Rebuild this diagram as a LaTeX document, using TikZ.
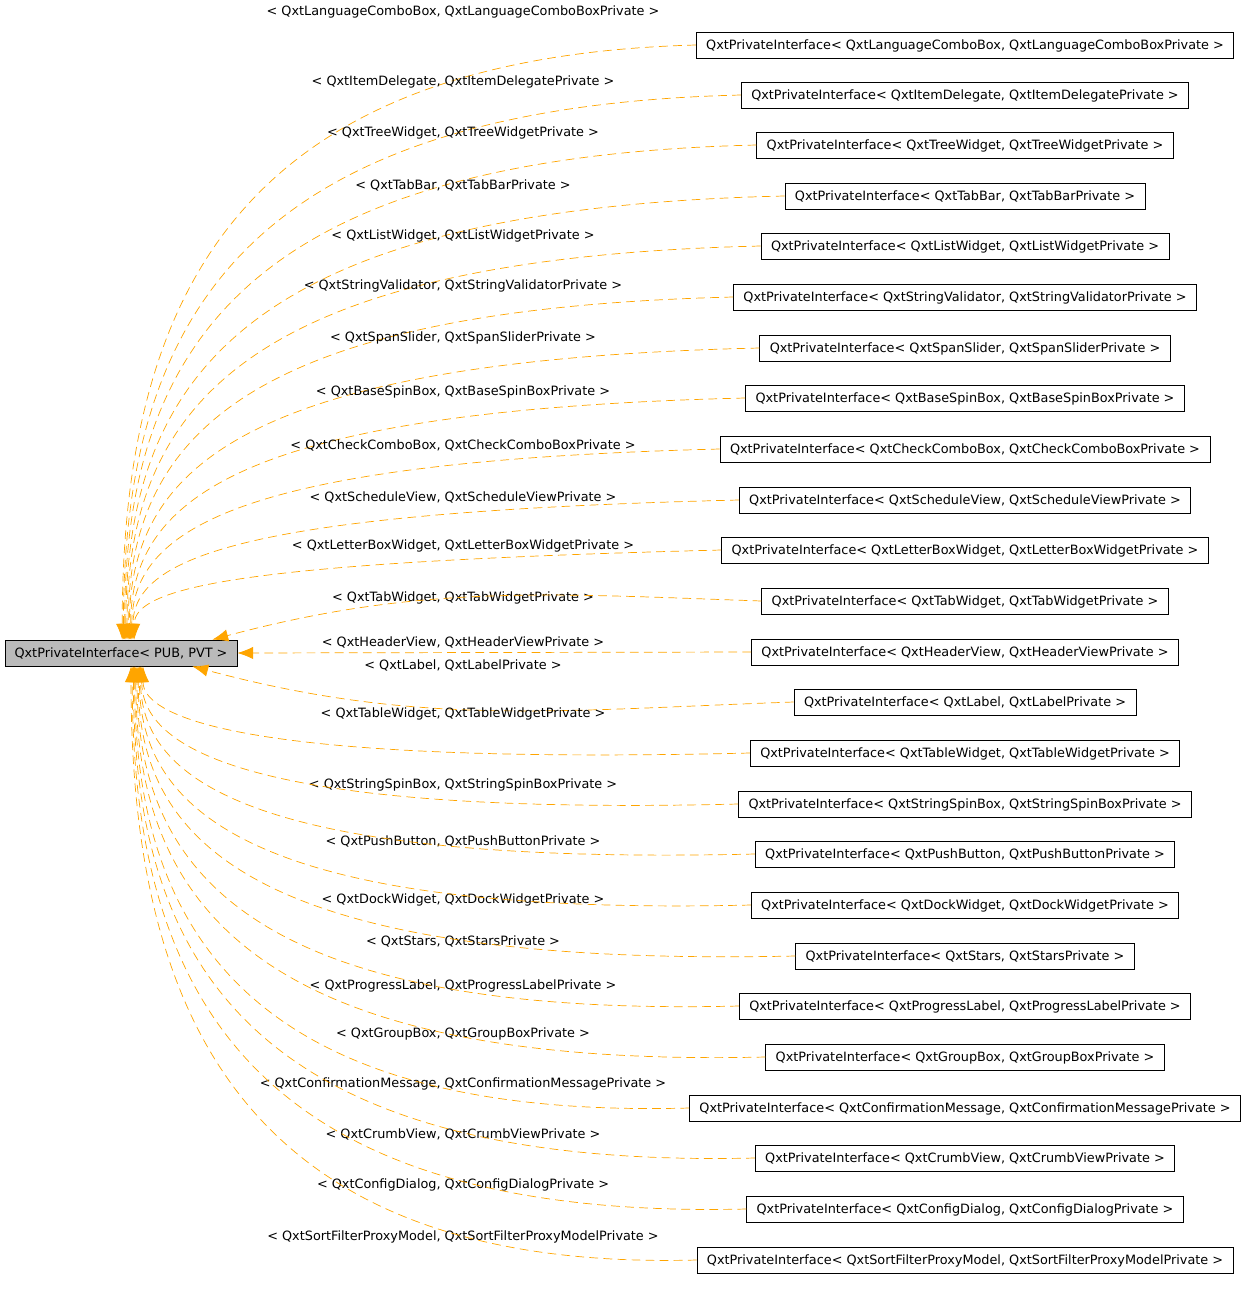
\documentclass[tikz,border=0pt]{standalone}
\usepackage{fontspec}
\setmainfont{DejaVu Sans}
\usetikzlibrary{arrows.meta,calc}
\definecolor{edgeorange}{HTML}{FFA500}
\tikzset{>={Latex[length=9pt,width=7pt]}}
\tikzset{
  classbox/.style={draw, inner sep=0pt, minimum height=26*0.02cm, font=\fontsize{7.3}{9}\selectfont, text height=1.2ex},
  dep/.style={->, edgeorange, dashed, dash pattern=on 5pt off 3pt},
  deplabel/.style={font=\fontsize{7.3}{9}\selectfont, inner sep=0pt}
}
\begin{document}
\begin{tikzpicture}[x=0.02cm,y=-0.02cm]
  \useasboundingbox (0,0) rectangle (1245,1309);
  \node[classbox, fill=black!27, minimum width=232*0.02cm] (base) at (121,653) {QxtPrivateInterface< PUB, PVT >};
  \foreach \n/\yc/\ly/\nm in {1/45/12/LanguageComboBox, 2/95/82/ItemDelegate, 3/145/133/TreeWidget, 4/196/185/TabBar, 5/246/236/ListWidget, 6/297/286/StringValidator, 7/348/338/SpanSlider, 8/398/392/BaseSpinBox, 9/449/445/CheckComboBox, 10/500/497/ScheduleView, 11/550/546/LetterBoxWidget, 12/601/598/TabWidget, 13/652/642/HeaderView, 14/702/665/Label, 15/753/714/TableWidget, 16/804/785/StringSpinBox, 17/854/841/PushButton, 18/905/900/DockWidget, 19/956/941/Stars, 20/1006/986/ProgressLabel, 21/1057/1034/GroupBox, 22/1108/1084/ConfirmationMessage, 23/1158/1134/CrumbView, 24/1209/1185/ConfigDialog, 25/1260/1237/SortFilterProxyModel} {
    \node[classbox, inner xsep=10*0.02cm] (r\n) at (965,\yc) {QxtPrivateInterface< Qxt\nm, Qxt{\nm}Private >};
    \node[deplabel] (l\n) at (463,\ly) {< Qxt\nm, Qxt{\nm}Private >};
    \ifnum\n<12
      \coordinate (e\n) at ($(base.north)+(\n*1.2,0)$);
      \draw[dep] (r\n.west) .. controls (250,{\yc+12}) and ({121+\n*1.2},{\yc+0.4*(640-\yc)}) .. (e\n);
    \else\ifnum\n=12
      \draw[dep] (r\n.west) to[out=178, in=15] ($(base.north east)+(-25,0)$);
    \else\ifnum\n=13
      \draw[dep] (r\n.west) -- (base.east);
    \else\ifnum\n=14
      \draw[dep] (r\n.west) to[out=182, in=-15] ($(base.south east)+(-45,0)$);
    \else
      \coordinate (e\n) at ($(base.south)+(40-\n*1.2,0)$);
      \draw[dep] (r\n.west) .. controls (250,{\yc+12}) and ({161-\n*1.2},{\yc-0.4*(\yc-666)}) .. (e\n);
    \fi\fi\fi\fi
  }
\end{tikzpicture}
\end{document}
